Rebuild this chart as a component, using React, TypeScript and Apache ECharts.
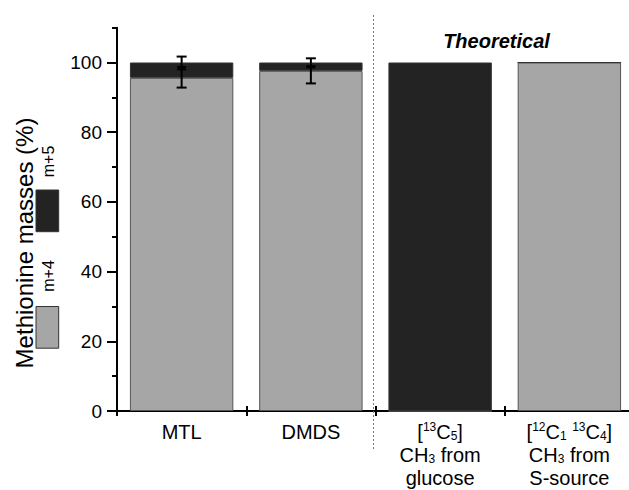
import React, { useEffect, useRef } from "react";
import * as echarts from "echarts";

const categories = ["MTL", "DMDS", "glucose", "S-source"];
const categoryLabels = [
  "MTL",
  "DMDS",
  "[{sup|13}C{sub|5}]\nCH{sub|3} from\nglucose",
  "[{sup|12}C{sub|1} {sup|13}C{sub|4}]\nCH{sub|3} from\nS-source",
];
const seriesNames = ["m+4", "m+5"];
const m4Values = [95.6, 97.6, 0, 100];
const m5Values = [4.4, 2.4, 100, 0];
const errLow = [92.8, 94.0];
const errHigh = [101.7, 101.2];
const errMidA = [98.05, 98.6];
const errMidB = [98.7, 99.0];
const yMajorTicks = [0, 20, 40, 60, 80, 100];
const yMinorTicks = [10, 30, 50, 70, 90, 110];
const yAxisTitle = "Methionine masses (%)";
const groupTitle = "Theoretical";

const FONT = "'Liberation Sans', Arial, sans-serif";
const GRAY = "#a6a6a6";
const DARK = "#232323";

export default function App() {
  const ref = useRef<HTMLDivElement>(null);
  useEffect(() => {
    if (!ref.current) return;
    const chart = echarts.init(ref.current, null, { renderer: "svg" });
    const errorData = errLow.map((lo, i) => [i, lo, errHigh[i], errMidA[i], errMidB[i]]);
    const option: any = {
      animation: false,
      textStyle: { fontFamily: FONT },
      grid: {
        left: 117,
        top: 27.65,
        width: 517,
        height: 383.35,
        containLabel: false,
        outerBoundsMode: "none",
      },
      xAxis: [
        {
          type: "category",
          data: categories,
          boundaryGap: true,
          axisLine: { show: true, lineStyle: { color: "#000", width: 2 } },
          axisTick: { show: true, alignWithLabel: false, length: 5, lineStyle: { color: "#000", width: 2 } },
          axisLabel: {
            interval: 0,
            margin: 9,
            color: "#000",
            fontFamily: FONT,
            fontSize: 20,
            lineHeight: 23,
            formatter: (_v: string, idx: number) => categoryLabels[idx],
            rich: {
              sup: { fontSize: 12, lineHeight: 14, padding: [0, 0, 9, 0], color: "#000", fontFamily: FONT },
              sub: { fontSize: 12, lineHeight: 14, padding: [9, 0, 0, 0], color: "#000", fontFamily: FONT },
            },
          },
          splitLine: { show: false },
        },
        {
          type: "category",
          data: categories,
          position: "bottom",
          boundaryGap: true,
          axisLine: { show: false },
          axisTick: { show: true, inside: true, alignWithLabel: false, length: 5, lineStyle: { color: "#000", width: 2 } },
          axisLabel: { show: false },
          splitLine: { show: false },
        },
      ],
      yAxis: [
        {
          type: "value",
          min: 0,
          max: 110,
          interval: 10,
          axisLine: { show: true, lineStyle: { color: "#000", width: 2 } },
          axisTick: { show: true, length: 10, customValues: yMajorTicks, lineStyle: { color: "#000", width: 2 } },
          axisLabel: { customValues: yMajorTicks, margin: 15, color: "#000", fontSize: 19, fontFamily: FONT },
          splitLine: { show: false },
        },
        {
          type: "value",
          min: 0,
          max: 110,
          interval: 10,
          position: "left",
          axisLine: { show: false },
          axisTick: { show: true, length: 5, customValues: yMinorTicks, lineStyle: { color: "#000", width: 2 } },
          axisLabel: { show: false },
          splitLine: { show: false },
        },
      ],
      series: [
        {
          name: seriesNames[0],
          type: "bar",
          stack: "total",
          barWidth: "80%",
          data: m4Values,
          itemStyle: { color: GRAY, borderColor: "#555", borderWidth: 1 },
        },
        {
          name: seriesNames[1],
          type: "bar",
          stack: "total",
          barWidth: "80%",
          data: m5Values,
          itemStyle: { color: DARK, borderColor: "#333", borderWidth: 1 },
        },
        {
          type: "custom",
          z: 10,
          data: errorData,
          encode: { x: 0, y: [1, 2] },
          renderItem: (_p: any, api: any) => {
            const x = api.value(0);
            const lo = api.coord([x, api.value(1)]);
            const hi = api.coord([x, api.value(2)]);
            const ma = api.coord([x, api.value(3)]);
            const mb = api.coord([x, api.value(4)]);
            const cx = lo[0];
            const w = 5;
            const st = { stroke: "#000", lineWidth: 2 };
            return {
              type: "group",
              children: [
                { type: "line", shape: { x1: cx, y1: lo[1], x2: cx, y2: hi[1] }, style: st },
                { type: "line", shape: { x1: cx - w, y1: lo[1], x2: cx + w, y2: lo[1] }, style: st },
                { type: "line", shape: { x1: cx - w, y1: hi[1], x2: cx + w, y2: hi[1] }, style: st },
                { type: "line", shape: { x1: cx - 4.5, y1: ma[1], x2: cx + 4.5, y2: ma[1] }, style: st },
                { type: "line", shape: { x1: cx - 4.5, y1: mb[1], x2: cx + 4.5, y2: mb[1] }, style: st },
              ],
            };
          },
        },
      ],
      graphic: [
        {
          type: "line",
          shape: { x1: 373.5, y1: 15, x2: 373.5, y2: 450 },
          style: { stroke: "#777", lineWidth: 1, lineDash: [2, 2] },
          z: 5,
        },
        {
          type: "text",
          x: 24,
          y: 243,
          rotation: Math.PI / 2,
          style: {
            text: yAxisTitle,
            fontSize: 24,
            fontFamily: FONT,
            fill: "#000",
            align: "center",
            verticalAlign: "middle",
          },
        },
        {
          type: "text",
          x: 496.5,
          y: 41,
          style: {
            text: groupTitle,
            fontSize: 20,
            fontWeight: "bold",
            fontStyle: "italic",
            fontFamily: FONT,
            fill: "#000",
            align: "center",
            verticalAlign: "middle",
          },
        },
        {
          type: "rect",
          shape: { x: 36, y: 190, width: 22.7, height: 41.7 },
          style: { fill: DARK, stroke: "#333", lineWidth: 1 },
        },
        {
          type: "rect",
          shape: { x: 36, y: 306.5, width: 22.7, height: 41.7 },
          style: { fill: GRAY, stroke: "#333", lineWidth: 1 },
        },
        {
          type: "text",
          x: 48,
          y: 161.5,
          rotation: Math.PI / 2,
          style: {
            text: seriesNames[1],
            fontSize: 16,
            fontFamily: FONT,
            fill: "#000",
            align: "center",
            verticalAlign: "middle",
          },
        },
        {
          type: "text",
          x: 48,
          y: 276,
          rotation: Math.PI / 2,
          style: {
            text: seriesNames[0],
            fontSize: 16,
            fontFamily: FONT,
            fill: "#000",
            align: "center",
            verticalAlign: "middle",
          },
        },
      ],
    };
    chart.setOption(option);
    return () => chart.dispose();
  }, []);
  return (
    <div
      ref={ref}
      style={{ width: 629, height: 490, position: "absolute", left: 0, top: 0, background: "#fff" }}
    />
  );
}
